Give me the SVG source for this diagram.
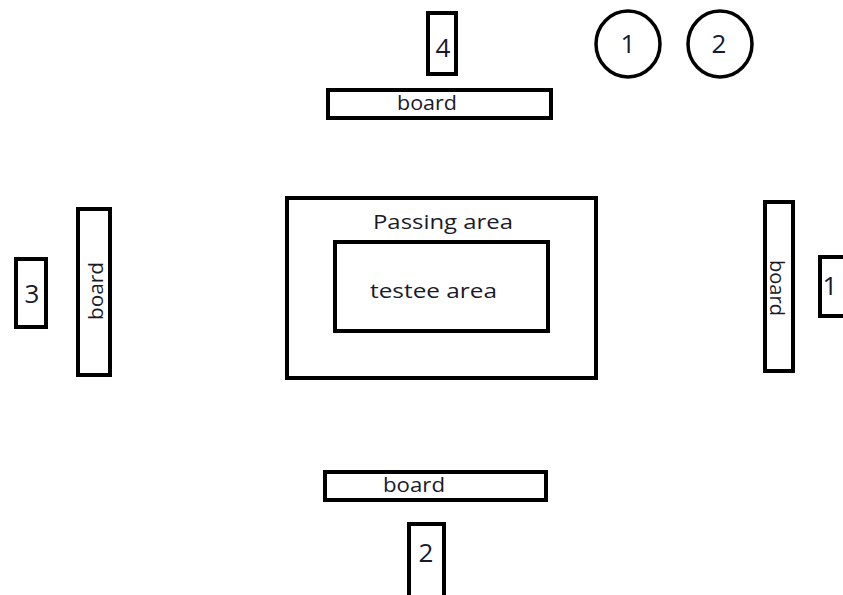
<svg xmlns="http://www.w3.org/2000/svg" width="843" height="595" viewBox="0 0 843 595">
<style>
.b{fill:#fff;stroke:#000;stroke-width:4}
.c{fill:#fff;stroke:#000;stroke-width:3.5}
.t{font-family:"Open Sans","DejaVu Sans",sans-serif;fill:#1a1a2a;text-anchor:middle}
.n{font-size:26px}
.l{font-size:20.5px}
</style>
<rect width="843" height="595" fill="#fff"/>
<g id="connectors"></g>
<g id="box4"><rect class="b" x="428" y="13" width="28" height="61"/><text class="t n" x="443" y="57" font-size="29">4</text></g>
<g id="circle1"><ellipse class="c" cx="628" cy="44" rx="32" ry="33"/><text class="t n" x="628" y="53">1</text></g>
<g id="circle2"><ellipse class="c" cx="720" cy="44" rx="32" ry="33"/><text class="t n" x="719" y="53">2</text></g>
<g id="boardTop"><rect class="b" x="328" y="90" width="223" height="28"/><text class="t l" x="427" y="110" textLength="60" lengthAdjust="spacingAndGlyphs">board</text></g>
<g id="passingArea"><rect class="b" x="287" y="198" width="309" height="180"/><text class="t l" x="443" y="229" textLength="140" lengthAdjust="spacingAndGlyphs">Passing area</text></g>
<g id="testeeArea"><rect class="b" x="335" y="242" width="213" height="89"/><text class="t l" x="433.5" y="298" textLength="127" lengthAdjust="spacingAndGlyphs">testee area</text></g>
<g id="box3"><rect class="b" x="16" y="259" width="30" height="68"/><text class="t n" x="32" y="303" font-size="27">3</text></g>
<g id="boardLeft"><rect class="b" x="78" y="209" width="32" height="166"/><text class="t l" transform="translate(103 291) rotate(-90)" x="0" y="0" textLength="58" lengthAdjust="spacingAndGlyphs">board</text></g>
<g id="boardRight"><rect class="b" x="765" y="202" width="28" height="169"/><text class="t l" transform="translate(770 288) rotate(90)" x="0" y="0" textLength="56" lengthAdjust="spacingAndGlyphs">board</text></g>
<g id="box1"><rect class="b" x="820" y="257" width="40" height="59"/><text class="t n" x="830" y="295" font-size="24">1</text></g>
<g id="boardBottom"><rect class="b" x="325" y="472" width="221" height="28"/><text class="t l" x="414" y="492" textLength="62" lengthAdjust="spacingAndGlyphs">board</text></g>
<g id="box2"><rect class="b" x="409" y="524" width="35" height="80"/><text class="t n" x="426" y="562" font-size="27">2</text></g>
</svg>
